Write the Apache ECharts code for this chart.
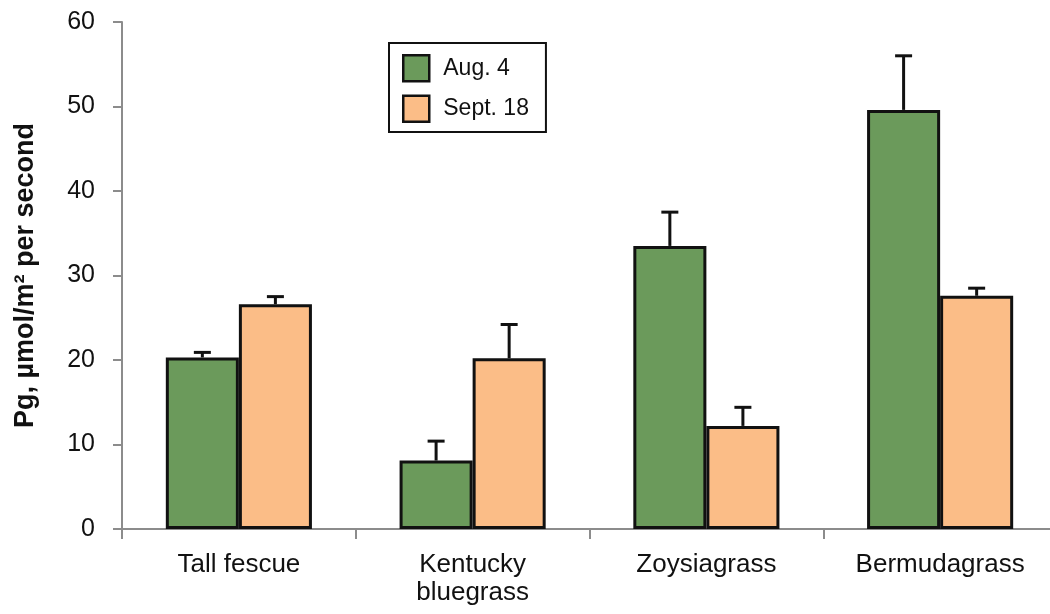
<!DOCTYPE html>
<html>
<head>
<meta charset="utf-8">
<script src="https://cdn.jsdelivr.net/npm/echarts@6/dist/echarts.min.js"></script>
<style>
  html, body { margin: 0; padding: 0; background: #fff; overflow: hidden; }
  /* the category axis runs a few pixels past the right edge of the window */
  #chart { width: 1057px; height: 614px; }
</style>
</head>
<body>
<div id="chart"></div>
<script>
// Gross photosynthesis by grass species on two sampling dates
const categories = ['Tall fescue', 'Kentucky\nbluegrass', 'Zoysiagrass', 'Bermudagrass'];
const seriesNames = ['Aug. 4', 'Sept. 18'];
const augValues = [20.3, 8.1, 33.5, 49.6];
const septValues = [26.6, 20.2, 12.2, 27.6];
const augErrors = [0.6, 2.3, 4.0, 6.4];
const septErrors = [0.9, 4.0, 2.2, 0.9];
const yTicks = [0, 10, 20, 30, 40, 50, 60];

const FONT = '"Liberation Sans", Arial, Helvetica, sans-serif';
const GREEN = '#6b9a5b';
const ORANGE = '#fbbd87';
const AXIS_GRAY = '#8c8c8c';
const CATEGORY_GAP = 0.375;

// Upward-only error whisker with a flat cap, placed over the left (-1) or right (+1) bar
function errorRenderer(side) {
  return function (params, api) {
    const idx = api.value(0);
    const val = api.value(1);
    const err = api.value(2);
    const base = api.coord([idx, val]);
    const top = api.coord([idx, val + err]);
    const catWidth = api.size([1, 0])[0];
    const barWidth = catWidth * (1 - CATEGORY_GAP) / 2;
    const cx = base[0] + side * barWidth / 2;
    const half = 8.5;
    const style = { stroke: '#111', lineWidth: 3 };
    return {
      type: 'group',
      children: [
        { type: 'line', shape: { x1: cx, y1: base[1], x2: cx, y2: top[1] }, style: style },
        { type: 'line', shape: { x1: cx - half, y1: top[1], x2: cx + half, y2: top[1] }, style: style }
      ]
    };
  };
}

const chart = echarts.init(document.getElementById('chart'), null, { renderer: 'canvas' });

chart.setOption({
  animation: false,
  backgroundColor: '#fff',
  textStyle: { fontFamily: FONT },
  grid: { left: 122, top: 22, right: 0, bottom: 85, containLabel: false },
  legend: {
    data: seriesNames,
    orient: 'vertical',
    left: 389,
    top: 43,
    padding: [11, 17, 9, 13],
    itemWidth: 26,
    itemHeight: 26,
    itemGap: 12,
    backgroundColor: '#fff',
    borderColor: '#111',
    borderWidth: 2,
    borderRadius: 0,
    icon: 'rect',
    itemStyle: { borderColor: '#111', borderWidth: 2.5 },
    textStyle: { fontFamily: FONT, fontSize: 23, color: '#111', padding: [0, 0, 0, 9] }
  },
  xAxis: {
    type: 'category',
    data: categories,
    axisLine: { show: true, lineStyle: { color: AXIS_GRAY, width: 2 } },
    axisTick: { show: true, length: 10, lineStyle: { color: AXIS_GRAY, width: 2 } },
    axisLabel: { fontFamily: FONT, fontSize: 26, color: '#111', margin: 22, lineHeight: 28, interval: 0 },
    splitLine: { show: false }
  },
  yAxis: {
    type: 'value',
    min: yTicks[0],
    max: yTicks[yTicks.length - 1],
    interval: 10,
    name: 'Pg, µmol/m² per second',
    nameLocation: 'middle',
    nameGap: 83,
    nameTextStyle: { fontFamily: FONT, fontSize: 27, fontWeight: 'bold', color: '#111' },
    axisLine: { show: true, lineStyle: { color: AXIS_GRAY, width: 2 } },
    axisTick: { show: true, length: 9, lineStyle: { color: AXIS_GRAY, width: 2 } },
    axisLabel: { fontFamily: FONT, fontSize: 25, color: '#111', margin: 27 },
    splitLine: { show: false }
  },
  series: [
    {
      name: seriesNames[0],
      type: 'bar',
      data: augValues,
      barGap: '0%',
      barCategoryGap: (CATEGORY_GAP * 100) + '%',
      itemStyle: { color: GREEN, borderColor: '#111', borderWidth: 3 }
    },
    {
      name: seriesNames[1],
      type: 'bar',
      data: septValues,
      barGap: '0%',
      barCategoryGap: (CATEGORY_GAP * 100) + '%',
      itemStyle: { color: ORANGE, borderColor: '#111', borderWidth: 3 }
    },
    {
      name: 'augError',
      type: 'custom',
      renderItem: errorRenderer(-1),
      encode: { x: 0, y: 1 },
      data: augValues.map((v, i) => [i, v, augErrors[i]]),
      z: 5
    },
    {
      name: 'septError',
      type: 'custom',
      renderItem: errorRenderer(1),
      encode: { x: 0, y: 1 },
      data: septValues.map((v, i) => [i, v, septErrors[i]]),
      z: 5
    }
  ]
});
</script>
</body>
</html>
